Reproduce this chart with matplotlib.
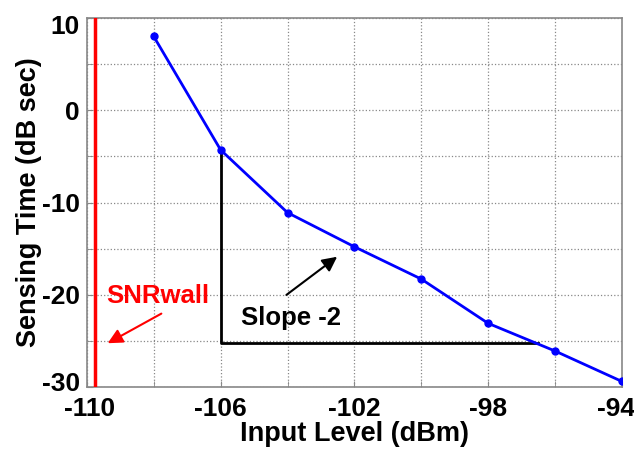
import matplotlib
matplotlib.use("Agg")
import matplotlib.pyplot as plt
from matplotlib.transforms import ScaledTranslation

plt.rcParams["font.family"] = ["Liberation Sans", "DejaVu Sans"]

input_level = [-108, -106, -104, -102, -100, -98, -96, -94]
sensing_time = [8.0, -4.3, -11.1, -14.8, -18.3, -23.1, -26.1, -29.4]

snr_wall = -109.75
slope_corner = (-106, -25.2)
slope_end_x = -96.5

x_ticks = [-110, -106, -102, -98, -94]
y_ticks = [-30, -20, -10, 0, 10]

fig = plt.figure(figsize=(6.34, 4.5), dpi=100)
ax = fig.add_axes([0.137, 0.14, 0.844, 0.82])

ax.set_xlim(-110, -94)
ax.set_ylim(-30, 10)
ax.set_xticks(range(-110, -93, 2), minor=True)
ax.set_yticks(range(-30, 11, 5), minor=True)
ax.set_xticks(x_ticks)
ax.set_yticks(y_ticks)
ax.set_xticklabels([str(v) for v in x_ticks])
ax.set_yticklabels([str(v) for v in y_ticks])
ax.grid(True, which="both", linestyle=":", color="#888888", linewidth=0.9)
ax.tick_params(which="both", direction="in", length=4, color="#888888",
               labelsize=19)
ax.tick_params(axis="x", pad=7)
ax.tick_params(axis="y", pad=5)
for lab in ax.get_xticklabels() + ax.get_yticklabels():
    lab.set_fontweight("bold")
for sp in ax.spines.values():
    sp.set_color("#888888")
    sp.set_linewidth(1.2)

# nudge the end labels inward like the original
def nudge(lab, dx, dy):
    lab.set_transform(lab.get_transform() + ScaledTranslation(dx / 72, dy / 72, fig.dpi_scale_trans))

ylabs = ax.get_yticklabels()
nudge(ylabs[0], 0, 4)
nudge(ylabs[-1], 0, -5)
xlabs = ax.get_xticklabels()
nudge(xlabs[0], 2, 0)
nudge(xlabs[-1], -4.5, 0)

ax.set_xlabel("Input Level (dBm)", fontsize=19.5, fontweight="bold", labelpad=0)
ax.set_ylabel("Sensing Time (dB sec)", fontsize=19.5, fontweight="bold", labelpad=0)

# SNR wall
ax.axvline(snr_wall, color="red", linewidth=2.5, zorder=3)

# slope triangle
y_top = sensing_time[input_level.index(slope_corner[0])]
ax.plot([slope_corner[0], slope_corner[0], slope_end_x],
        [y_top, slope_corner[1], slope_corner[1]],
        color="black", linewidth=2, zorder=3)

ax.plot(input_level, sensing_time, color="blue", linewidth=2,
        marker="o", markersize=5, zorder=4)

ax.annotate("", xy=(-102.45, -15.7), xytext=(-104.1, -20.2),
            arrowprops=dict(arrowstyle="-|>", color="black", lw=1.5,
                            mutation_scale=22))
ax.text(-103.9, -22.5, "Slope -2", fontsize=18.5, fontweight="bold",
        ha="center", va="center", color="black")

ax.annotate("", xy=(-109.45, -25.4), xytext=(-107.7, -21.9),
            arrowprops=dict(arrowstyle="-|>", color="red", lw=1.5,
                            mutation_scale=22))
ax.text(-107.87, -20.1, "SNRwall", fontsize=18.5, fontweight="bold",
        ha="center", va="center", color="red")

fig.savefig("out.png", dpi=100, facecolor="white")
